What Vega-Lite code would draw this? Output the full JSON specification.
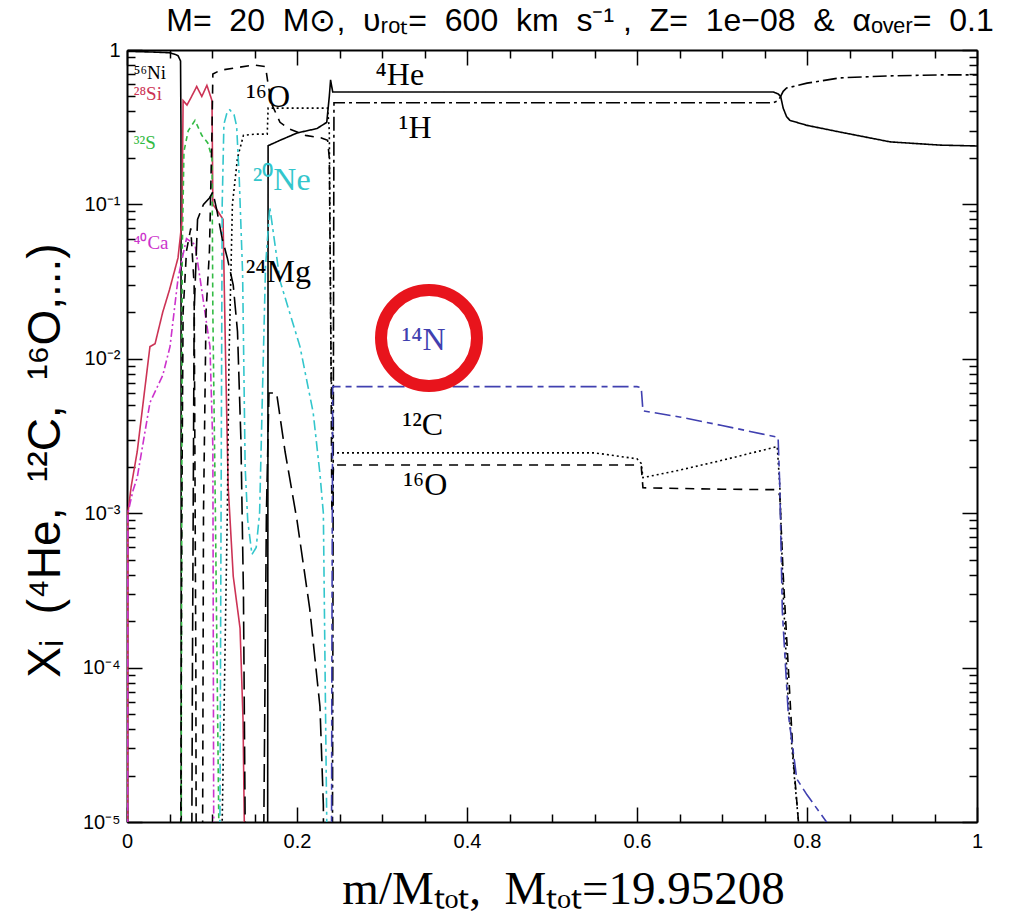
{
  "$schema": "https://vega.github.io/schema/vega-lite/v6.json",
  "width": 850,
  "height": 772,
  "autosize": "none",
  "padding": {"left": 127, "top": 50, "right": 39, "bottom": 97},
  "background": "white",
  "config": {"view": {"stroke": null}, "font": "Liberation Sans"},
  "title": {
    "text": "M= \u00a020 \u00a0M⊙, \u00a0υᵣₒₜ= \u00a0600 \u00a0km \u00a0s⁻¹ , \u00a0Z= \u00a01e−08 \u00a0& \u00a0αₒᵥₑᵣ= \u00a00.1",
    "font": "Liberation Sans",
    "fontSize": 32,
    "fontWeight": "normal",
    "color": "black",
    "anchor": "middle",
    "dx": 28,
    "offset": 2
  },
  "datasets": {
    "lines": [
      {"iso": "Ni56", "x": 0, "y": 0.98},
      {"iso": "Ni56", "x": 0.03, "y": 0.97},
      {"iso": "Ni56", "x": 0.05, "y": 0.96},
      {"iso": "Ni56", "x": 0.056, "y": 0.94},
      {"iso": "Ni56", "x": 0.06, "y": 0.92},
      {"iso": "Ni56", "x": 0.063, "y": 0.85},
      {"iso": "Ni56", "x": 0.0635, "y": 0.3},
      {"iso": "Ni56", "x": 0.064, "y": 1e-7},

      {"iso": "Si28", "x": 0.0005, "y": 1e-7},
      {"iso": "Si28", "x": 0.001, "y": 0.001},
      {"iso": "Si28", "x": 0.005, "y": 0.0015},
      {"iso": "Si28", "x": 0.012, "y": 0.0025},
      {"iso": "Si28", "x": 0.019, "y": 0.0052},
      {"iso": "Si28", "x": 0.027, "y": 0.012},
      {"iso": "Si28", "x": 0.033, "y": 0.0125},
      {"iso": "Si28", "x": 0.042, "y": 0.02},
      {"iso": "Si28", "x": 0.05, "y": 0.028},
      {"iso": "Si28", "x": 0.06, "y": 0.045},
      {"iso": "Si28", "x": 0.0647, "y": 0.078},
      {"iso": "Si28", "x": 0.066, "y": 0.47},
      {"iso": "Si28", "x": 0.0706, "y": 0.44},
      {"iso": "Si28", "x": 0.076, "y": 0.5},
      {"iso": "Si28", "x": 0.082, "y": 0.58},
      {"iso": "Si28", "x": 0.088, "y": 0.5},
      {"iso": "Si28", "x": 0.094, "y": 0.59},
      {"iso": "Si28", "x": 0.1, "y": 0.47},
      {"iso": "Si28", "x": 0.101, "y": 0.1},
      {"iso": "Si28", "x": 0.107, "y": 0.09},
      {"iso": "Si28", "x": 0.113, "y": 0.08},
      {"iso": "Si28", "x": 0.116, "y": 0.01},
      {"iso": "Si28", "x": 0.119, "y": 0.0015},
      {"iso": "Si28", "x": 0.125, "y": 0.00039},
      {"iso": "Si28", "x": 0.133, "y": 0.00018},
      {"iso": "Si28", "x": 0.1365, "y": 0.000046},
      {"iso": "Si28", "x": 0.138, "y": 0.00001},
      {"iso": "Si28", "x": 0.139, "y": 1e-7},

      {"iso": "S32", "x": 0.063, "y": 1e-7},
      {"iso": "S32", "x": 0.065, "y": 0.05},
      {"iso": "S32", "x": 0.067, "y": 0.22},
      {"iso": "S32", "x": 0.072, "y": 0.3},
      {"iso": "S32", "x": 0.08, "y": 0.35},
      {"iso": "S32", "x": 0.088, "y": 0.28},
      {"iso": "S32", "x": 0.095, "y": 0.25},
      {"iso": "S32", "x": 0.1, "y": 0.2},
      {"iso": "S32", "x": 0.101, "y": 0.02},
      {"iso": "S32", "x": 0.104, "y": 0.001},
      {"iso": "S32", "x": 0.106, "y": 0.0001},
      {"iso": "S32", "x": 0.108, "y": 0.00001},
      {"iso": "S32", "x": 0.109, "y": 1e-7},

      {"iso": "Ca40", "x": 0.0005, "y": 1e-7},
      {"iso": "Ca40", "x": 0.001, "y": 0.001},
      {"iso": "Ca40", "x": 0.007, "y": 0.0014},
      {"iso": "Ca40", "x": 0.012, "y": 0.0017},
      {"iso": "Ca40", "x": 0.027, "y": 0.0052},
      {"iso": "Ca40", "x": 0.042, "y": 0.0078},
      {"iso": "Ca40", "x": 0.0506, "y": 0.012},
      {"iso": "Ca40", "x": 0.06, "y": 0.033},
      {"iso": "Ca40", "x": 0.0647, "y": 0.044},
      {"iso": "Ca40", "x": 0.07, "y": 0.06},
      {"iso": "Ca40", "x": 0.08, "y": 0.055},
      {"iso": "Ca40", "x": 0.086, "y": 0.033},
      {"iso": "Ca40", "x": 0.0976, "y": 0.012},
      {"iso": "Ca40", "x": 0.101, "y": 0.0027},
      {"iso": "Ca40", "x": 0.102, "y": 0.00001},
      {"iso": "Ca40", "x": 0.1025, "y": 1e-7},

      {"iso": "He4", "x": 0.164, "y": 1e-7},
      {"iso": "He4", "x": 0.1655, "y": 0.00001},
      {"iso": "He4", "x": 0.166, "y": 0.24},
      {"iso": "He4", "x": 0.18, "y": 0.26},
      {"iso": "He4", "x": 0.2, "y": 0.29},
      {"iso": "He4", "x": 0.2235, "y": 0.31},
      {"iso": "He4", "x": 0.235, "y": 0.34},
      {"iso": "He4", "x": 0.238, "y": 0.5},
      {"iso": "He4", "x": 0.2395, "y": 0.64},
      {"iso": "He4", "x": 0.242, "y": 0.535},
      {"iso": "He4", "x": 0.5, "y": 0.535},
      {"iso": "He4", "x": 0.76, "y": 0.535},
      {"iso": "He4", "x": 0.766, "y": 0.52},
      {"iso": "He4", "x": 0.769, "y": 0.5},
      {"iso": "He4", "x": 0.772, "y": 0.42},
      {"iso": "He4", "x": 0.776, "y": 0.37},
      {"iso": "He4", "x": 0.78, "y": 0.35},
      {"iso": "He4", "x": 0.8, "y": 0.325},
      {"iso": "He4", "x": 0.839, "y": 0.294},
      {"iso": "He4", "x": 0.898, "y": 0.254},
      {"iso": "He4", "x": 0.957, "y": 0.242},
      {"iso": "He4", "x": 1, "y": 0.239},

      {"iso": "H1", "x": 0.241, "y": 1e-7},
      {"iso": "H1", "x": 0.2425, "y": 0.001},
      {"iso": "H1", "x": 0.2435, "y": 0.455},
      {"iso": "H1", "x": 0.5, "y": 0.455},
      {"iso": "H1", "x": 0.76, "y": 0.455},
      {"iso": "H1", "x": 0.766, "y": 0.47},
      {"iso": "H1", "x": 0.769, "y": 0.5},
      {"iso": "H1", "x": 0.772, "y": 0.54},
      {"iso": "H1", "x": 0.776, "y": 0.567},
      {"iso": "H1", "x": 0.8, "y": 0.61},
      {"iso": "H1", "x": 0.839, "y": 0.66},
      {"iso": "H1", "x": 0.898, "y": 0.68},
      {"iso": "H1", "x": 0.957, "y": 0.69},
      {"iso": "H1", "x": 1, "y": 0.69},

      {"iso": "O16", "x": 0.062, "y": 1e-7},
      {"iso": "O16", "x": 0.0645, "y": 0.001},
      {"iso": "O16", "x": 0.066, "y": 0.02},
      {"iso": "O16", "x": 0.07, "y": 0.05},
      {"iso": "O16", "x": 0.075, "y": 0.07},
      {"iso": "O16", "x": 0.079, "y": 0.03},
      {"iso": "O16", "x": 0.081, "y": 0.0001},
      {"iso": "O16", "x": 0.082, "y": 1e-7},
      {"iso": "O16", "x": 0.088, "y": 1e-7},
      {"iso": "O16", "x": 0.09, "y": 0.001},
      {"iso": "O16", "x": 0.093, "y": 0.02},
      {"iso": "O16", "x": 0.097, "y": 0.05},
      {"iso": "O16", "x": 0.1, "y": 0.3},
      {"iso": "O16", "x": 0.101, "y": 0.7},
      {"iso": "O16", "x": 0.11, "y": 0.74},
      {"iso": "O16", "x": 0.13, "y": 0.77},
      {"iso": "O16", "x": 0.15, "y": 0.8},
      {"iso": "O16", "x": 0.163, "y": 0.78},
      {"iso": "O16", "x": 0.166, "y": 0.6},
      {"iso": "O16", "x": 0.17, "y": 0.45},
      {"iso": "O16", "x": 0.18, "y": 0.34},
      {"iso": "O16", "x": 0.19, "y": 0.31},
      {"iso": "O16", "x": 0.21, "y": 0.28},
      {"iso": "O16", "x": 0.228, "y": 0.27},
      {"iso": "O16", "x": 0.236, "y": 0.26},
      {"iso": "O16", "x": 0.238, "y": 0.2},
      {"iso": "O16", "x": 0.24, "y": 0.01},
      {"iso": "O16", "x": 0.241, "y": 0.001},
      {"iso": "O16", "x": 0.243, "y": 0.00205},
      {"iso": "O16", "x": 0.4, "y": 0.00205},
      {"iso": "O16", "x": 0.6, "y": 0.00205},
      {"iso": "O16", "x": 0.605, "y": 0.002},
      {"iso": "O16", "x": 0.607, "y": 0.00146},
      {"iso": "O16", "x": 0.7, "y": 0.00143},
      {"iso": "O16", "x": 0.765, "y": 0.00142},
      {"iso": "O16", "x": 0.768, "y": 0.0013},
      {"iso": "O16", "x": 0.772, "y": 0.0004},
      {"iso": "O16", "x": 0.778, "y": 0.0001},
      {"iso": "O16", "x": 0.784, "y": 0.000025},
      {"iso": "O16", "x": 0.79, "y": 0.00001},
      {"iso": "O16", "x": 0.792, "y": 1e-7},

      {"iso": "C12", "x": 0.111, "y": 1e-7},
      {"iso": "C12", "x": 0.112, "y": 0.00001},
      {"iso": "C12", "x": 0.118, "y": 0.001},
      {"iso": "C12", "x": 0.12, "y": 0.01},
      {"iso": "C12", "x": 0.124, "y": 0.1},
      {"iso": "C12", "x": 0.13, "y": 0.2},
      {"iso": "C12", "x": 0.137, "y": 0.28},
      {"iso": "C12", "x": 0.15, "y": 0.285},
      {"iso": "C12", "x": 0.165, "y": 0.285},
      {"iso": "C12", "x": 0.166, "y": 0.42},
      {"iso": "C12", "x": 0.2, "y": 0.42},
      {"iso": "C12", "x": 0.236, "y": 0.42},
      {"iso": "C12", "x": 0.238, "y": 0.3},
      {"iso": "C12", "x": 0.24, "y": 0.01},
      {"iso": "C12", "x": 0.242, "y": 0.00246},
      {"iso": "C12", "x": 0.55, "y": 0.00246},
      {"iso": "C12", "x": 0.6, "y": 0.00225},
      {"iso": "C12", "x": 0.605, "y": 0.0021},
      {"iso": "C12", "x": 0.607, "y": 0.0017},
      {"iso": "C12", "x": 0.65, "y": 0.0019},
      {"iso": "C12", "x": 0.7, "y": 0.0022},
      {"iso": "C12", "x": 0.765, "y": 0.0027},
      {"iso": "C12", "x": 0.768, "y": 0.0015},
      {"iso": "C12", "x": 0.772, "y": 0.0003},
      {"iso": "C12", "x": 0.778, "y": 0.00006},
      {"iso": "C12", "x": 0.785, "y": 0.00002},
      {"iso": "C12", "x": 0.79, "y": 0.00001},
      {"iso": "C12", "x": 0.792, "y": 1e-7},

      {"iso": "N14", "x": 0.24, "y": 1e-7},
      {"iso": "N14", "x": 0.241, "y": 0.0001},
      {"iso": "N14", "x": 0.242, "y": 0.0066},
      {"iso": "N14", "x": 0.6, "y": 0.0066},
      {"iso": "N14", "x": 0.605, "y": 0.0065},
      {"iso": "N14", "x": 0.607, "y": 0.0046},
      {"iso": "N14", "x": 0.65, "y": 0.0042},
      {"iso": "N14", "x": 0.7, "y": 0.0037},
      {"iso": "N14", "x": 0.766, "y": 0.0031},
      {"iso": "N14", "x": 0.768, "y": 0.0015},
      {"iso": "N14", "x": 0.771, "y": 0.00023},
      {"iso": "N14", "x": 0.778, "y": 0.00005},
      {"iso": "N14", "x": 0.788, "y": 0.000019},
      {"iso": "N14", "x": 0.8, "y": 0.000015},
      {"iso": "N14", "x": 0.823, "y": 0.00001},
      {"iso": "N14", "x": 0.826, "y": 1e-7},

      {"iso": "Ne20", "x": 0.108, "y": 1e-7},
      {"iso": "Ne20", "x": 0.11, "y": 0.0001},
      {"iso": "Ne20", "x": 0.112, "y": 0.1},
      {"iso": "Ne20", "x": 0.114, "y": 0.33},
      {"iso": "Ne20", "x": 0.118, "y": 0.4},
      {"iso": "Ne20", "x": 0.121, "y": 0.41},
      {"iso": "Ne20", "x": 0.126, "y": 0.38},
      {"iso": "Ne20", "x": 0.129, "y": 0.32},
      {"iso": "Ne20", "x": 0.132, "y": 0.15},
      {"iso": "Ne20", "x": 0.136, "y": 0.036},
      {"iso": "Ne20", "x": 0.139, "y": 0.002},
      {"iso": "Ne20", "x": 0.142, "y": 0.0009},
      {"iso": "Ne20", "x": 0.147, "y": 0.00054},
      {"iso": "Ne20", "x": 0.152, "y": 0.0006},
      {"iso": "Ne20", "x": 0.156, "y": 0.001},
      {"iso": "Ne20", "x": 0.159, "y": 0.005},
      {"iso": "Ne20", "x": 0.163, "y": 0.04},
      {"iso": "Ne20", "x": 0.168, "y": 0.096},
      {"iso": "Ne20", "x": 0.18, "y": 0.032},
      {"iso": "Ne20", "x": 0.2035, "y": 0.012},
      {"iso": "Ne20", "x": 0.219, "y": 0.0045},
      {"iso": "Ne20", "x": 0.227, "y": 0.0018},
      {"iso": "Ne20", "x": 0.231, "y": 0.001},
      {"iso": "Ne20", "x": 0.233, "y": 0.0001},
      {"iso": "Ne20", "x": 0.235, "y": 0.00001},
      {"iso": "Ne20", "x": 0.236, "y": 1e-7},

      {"iso": "Mg24", "x": 0.075, "y": 1e-7},
      {"iso": "Mg24", "x": 0.077, "y": 0.0001},
      {"iso": "Mg24", "x": 0.079, "y": 0.02},
      {"iso": "Mg24", "x": 0.083, "y": 0.08},
      {"iso": "Mg24", "x": 0.09, "y": 0.1},
      {"iso": "Mg24", "x": 0.097, "y": 0.11},
      {"iso": "Mg24", "x": 0.101, "y": 0.12},
      {"iso": "Mg24", "x": 0.106, "y": 0.09},
      {"iso": "Mg24", "x": 0.112, "y": 0.06},
      {"iso": "Mg24", "x": 0.118, "y": 0.045},
      {"iso": "Mg24", "x": 0.125, "y": 0.03},
      {"iso": "Mg24", "x": 0.13, "y": 0.015},
      {"iso": "Mg24", "x": 0.134, "y": 0.003},
      {"iso": "Mg24", "x": 0.137, "y": 0.0003},
      {"iso": "Mg24", "x": 0.139, "y": 0.00001},
      {"iso": "Mg24", "x": 0.14, "y": 1e-7},
      {"iso": "Mg24", "x": 0.16, "y": 1e-7},
      {"iso": "Mg24", "x": 0.161, "y": 0.00001},
      {"iso": "Mg24", "x": 0.164, "y": 0.001},
      {"iso": "Mg24", "x": 0.167, "y": 0.006},
      {"iso": "Mg24", "x": 0.176, "y": 0.006},
      {"iso": "Mg24", "x": 0.186, "y": 0.0025},
      {"iso": "Mg24", "x": 0.2, "y": 0.0009},
      {"iso": "Mg24", "x": 0.215, "y": 0.00024},
      {"iso": "Mg24", "x": 0.227, "y": 0.000056},
      {"iso": "Mg24", "x": 0.231, "y": 0.000013},
      {"iso": "Mg24", "x": 0.233, "y": 1e-7}
    ],
    "bigLabels": [
      {"iso": "He4", "t": "⁴He", "x": 0.321, "y": 0.689},
      {"iso": "H1", "t": "¹H", "x": 0.339, "y": 0.313},
      {"iso": "O16", "t": "¹⁶O", "x": 0.166, "y": 0.496},
      {"iso": "Ne20", "t": "²⁰Ne", "x": 0.182, "y": 0.144},
      {"iso": "Mg24", "t": "²⁴Mg", "x": 0.178, "y": 0.0365},
      {"iso": "N14", "t": "¹⁴N", "x": 0.349, "y": 0.01324},
      {"iso": "C12", "t": "¹²C", "x": 0.348, "y": 0.00372},
      {"iso": "O16", "t": "¹⁶O", "x": 0.351, "y": 0.00152}
    ],
    "smallLabels": [
      {"iso": "Ni56", "t": "⁵⁶Ni", "x": 0.008, "y": 0.71},
      {"iso": "Si28", "t": "²⁸Si", "x": 0.008, "y": 0.519},
      {"iso": "S32", "t": "³²S", "x": 0.008, "y": 0.25},
      {"iso": "Ca40", "t": "⁴⁰Ca", "x": 0.008, "y": 0.0563}
    ]
  },
  "layer": [
    {
      "data": {"name": "lines"},
      "mark": {"type": "line", "clip": true, "strokeWidth": 1.6},
      "encoding": {
        "x": {
          "field": "x", "type": "quantitative",
          "scale": {"domain": [0, 1], "nice": false, "zero": false},
          "axis": {
            "orient": "bottom",
            "values": [0, 0.05, 0.1, 0.15, 0.2, 0.25, 0.3, 0.35, 0.4, 0.45, 0.5, 0.55, 0.6, 0.65, 0.7, 0.75, 0.8, 0.85, 0.9, 0.95, 1],
            "grid": false,
            "domainColor": "black", "domainWidth": 2,
            "tickColor": "black", "tickWidth": 1.5,
            "tickSize": {"condition": {"test": "abs(datum.value*5 - round(datum.value*5)) < 0.000001", "value": -15}, "value": -8},
            "labelExpr": "abs(datum.value*5 - round(datum.value*5)) < 0.000001 ? format(datum.value, '~g') : ''",
            "labelFont": "Liberation Sans", "labelFontSize": 20, "labelColor": "black",
            "labelFlush": false, "labelOverlap": false, "labelPadding": 24,
            "title": "m/Mₜₒₜ, \u00a0Mₜₒₜ=19.95208",
            "titleFont": "Liberation Serif", "titleFontSize": 47, "titleFontWeight": "normal", "titleColor": "black",
            "titleX": 436, "titleY": 81, "titleAlign": "center", "titleBaseline": "alphabetic"
          }
        },
        "y": {
          "field": "y", "type": "quantitative",
          "scale": {"type": "log", "domain": [0.00001, 1], "nice": false},
          "axis": {
            "orient": "left",
            "values": [0.00001,0.00002,0.00003,0.00004,0.00005,0.00006,0.00007,0.00008,0.00009,0.0001,0.0002,0.0003,0.0004,0.0005,0.0006,0.0007,0.0008,0.0009,0.001,0.002,0.003,0.004,0.005,0.006,0.007,0.008,0.009,0.01,0.02,0.03,0.04,0.05,0.06,0.07,0.08,0.09,0.1,0.2,0.3,0.4,0.5,0.6,0.7,0.8,0.9,1],
            "grid": false,
            "domainColor": "black", "domainWidth": 2,
            "tickColor": "black", "tickWidth": 1.5,
            "tickSize": {"condition": {"test": "abs(log(datum.value)/LN10 - round(log(datum.value)/LN10)) < 0.000001", "value": -15}, "value": -8},
            "labelExpr": "datum.value == 1 ? '1' : datum.value == 0.1 ? '10⁻¹' : datum.value == 0.01 ? '10⁻²' : datum.value == 0.001 ? '10⁻³' : datum.value == 0.0001 ? '10⁻⁴' : datum.value == 0.00001 ? '10⁻⁵' : ''",
            "labelFont": "Liberation Sans", "labelFontSize": 20, "labelColor": "black",
            "labelOverlap": false, "labelFlush": false, "labelPadding": 22,
            "title": "Xᵢ \u00a0(⁴He, \u00a0¹²C, \u00a0¹⁶O,...)",
            "titleFont": "Liberation Sans", "titleFontSize": 46, "titleFontWeight": "normal", "titleColor": "black",
            "titleX": -82, "titleY": 410, "titleAngle": 270, "titleAlign": "center", "titleBaseline": "middle"
          }
        },
        "color": {
          "field": "iso", "type": "nominal", "legend": null,
          "scale": {
            "domain": ["Ni56", "Si28", "S32", "Ca40", "He4", "H1", "O16", "C12", "N14", "Ne20", "Mg24"],
            "range": ["black", "#cc3355", "#33bb44", "#cc33cc", "black", "black", "black", "black", "#4040b0", "#33c6cc", "black"]
          }
        },
        "strokeDash": {
          "field": "iso", "type": "nominal", "legend": null,
          "scale": {
            "domain": ["Ni56", "Si28", "S32", "Ca40", "He4", "H1", "O16", "C12", "N14", "Ne20", "Mg24"],
            "range": [[1, 0], [1, 0], [5, 4], [8, 3, 2, 3], [1, 0], [14, 4, 3, 4], [9, 7], [2, 3], [16, 5, 6, 5], [10, 4, 3, 4], [18, 7]]
          }
        }
      }
    },
    {
      "data": {"name": "lines"},
      "mark": {"type": "point", "opacity": 0},
      "encoding": {
        "x": {
          "field": "x", "type": "quantitative",
          "scale": {"domain": [0, 1], "nice": false, "zero": false},
          "axis": {
            "orient": "top",
            "values": [0, 0.05, 0.1, 0.15, 0.2, 0.25, 0.3, 0.35, 0.4, 0.45, 0.5, 0.55, 0.6, 0.65, 0.7, 0.75, 0.8, 0.85, 0.9, 0.95, 1],
            "grid": false, "labels": false, "title": null,
            "domainColor": "black", "domainWidth": 2,
            "tickColor": "black", "tickWidth": 1.5,
            "tickSize": {"condition": {"test": "abs(datum.value*5 - round(datum.value*5)) < 0.000001", "value": -15}, "value": -8}
          }
        },
        "y": {
          "field": "y", "type": "quantitative",
          "scale": {"type": "log", "domain": [0.00001, 1], "nice": false},
          "axis": {
            "orient": "right",
            "values": [0.00001,0.00002,0.00003,0.00004,0.00005,0.00006,0.00007,0.00008,0.00009,0.0001,0.0002,0.0003,0.0004,0.0005,0.0006,0.0007,0.0008,0.0009,0.001,0.002,0.003,0.004,0.005,0.006,0.007,0.008,0.009,0.01,0.02,0.03,0.04,0.05,0.06,0.07,0.08,0.09,0.1,0.2,0.3,0.4,0.5,0.6,0.7,0.8,0.9,1],
            "grid": false, "labels": false, "title": null,
            "domainColor": "black", "domainWidth": 2,
            "tickColor": "black", "tickWidth": 1.5,
            "tickSize": {"condition": {"test": "abs(log(datum.value)/LN10 - round(log(datum.value)/LN10)) < 0.000001", "value": -15}, "value": -8}
          }
        }
      }
    },
    {
      "data": {"name": "bigLabels"},
      "mark": {"type": "text", "font": "Liberation Serif", "fontSize": 32, "align": "center", "baseline": "middle"},
      "encoding": {
        "x": {"field": "x", "type": "quantitative", "axis": null},
        "y": {"field": "y", "type": "quantitative", "axis": null},
        "text": {"field": "t"},
        "color": {"field": "iso", "type": "nominal", "legend": null}
      }
    },
    {
      "data": {"name": "smallLabels"},
      "mark": {"type": "text", "font": "Liberation Serif", "fontSize": 19, "align": "left", "baseline": "middle"},
      "encoding": {
        "x": {"field": "x", "type": "quantitative", "axis": null},
        "y": {"field": "y", "type": "quantitative", "axis": null},
        "text": {"field": "t"},
        "color": {"field": "iso", "type": "nominal", "legend": null}
      }
    },
    {
      "data": {"values": [{"x": 0.3553, "y": 0.01364}]},
      "mark": {"type": "point", "shape": "circle", "filled": false, "stroke": "#e8141c", "strokeWidth": 12, "size": 9216, "opacity": 1},
      "encoding": {
        "x": {"field": "x", "type": "quantitative", "axis": null},
        "y": {"field": "y", "type": "quantitative", "axis": null}
      }
    }
  ],
  "resolve": {"axis": {"x": "independent", "y": "independent"}}
}
